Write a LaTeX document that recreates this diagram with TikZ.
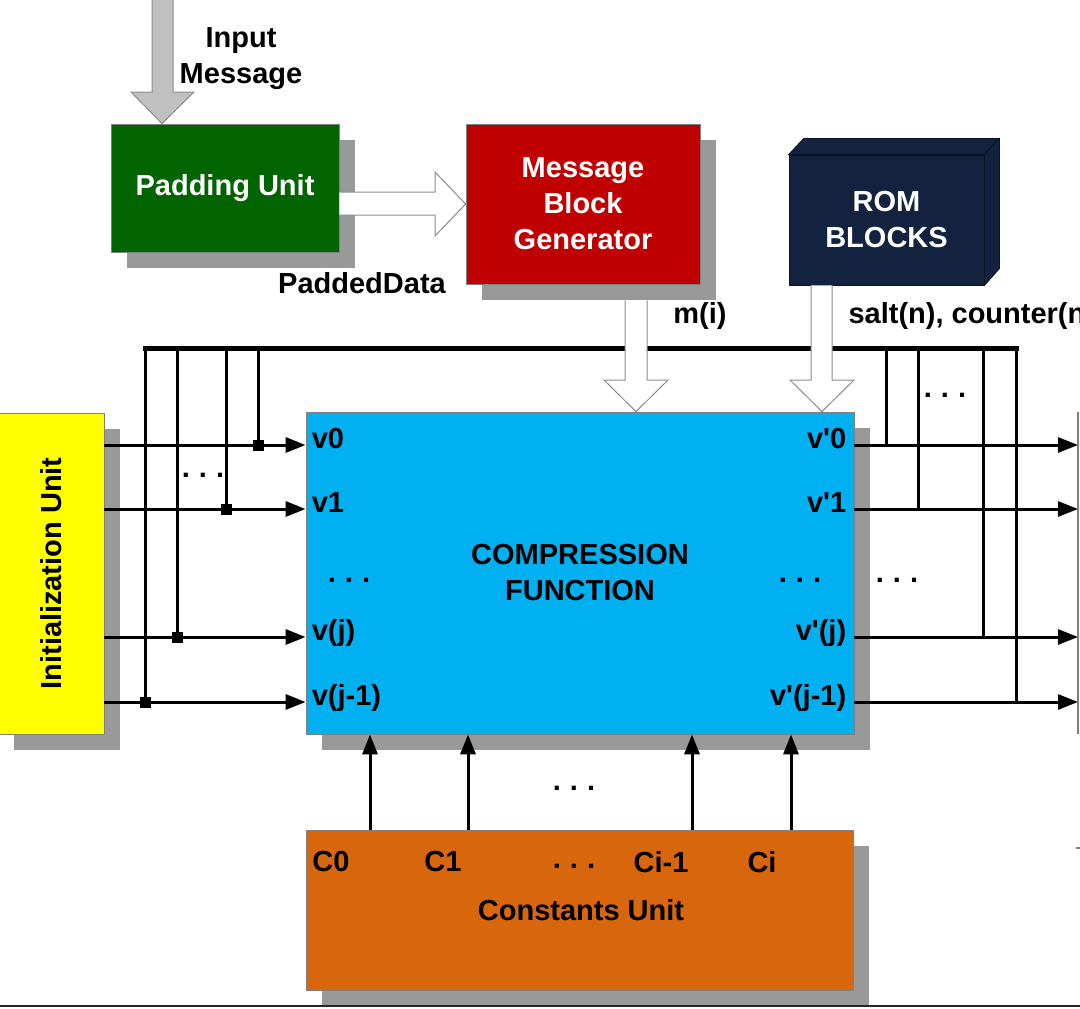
\documentclass[tikz,border=0pt]{standalone}
\usepackage{fontspec}
\setmainfont{Liberation Sans}
\usepackage{tikz}
\usetikzlibrary{arrows.meta}
\usetikzlibrary{shadows}

\definecolor{padgreen}{HTML}{006400}
\definecolor{mbgred}{HTML}{C00000}
\definecolor{romnavy}{HTML}{13223F}
\definecolor{compblue}{HTML}{00B0F0}
\definecolor{inityellow}{HTML}{FFFF00}
\definecolor{constorange}{HTML}{D8660C}
\definecolor{shadowgray}{HTML}{999999}
\definecolor{arrgray}{HTML}{C0C0C0}

\newcommand{\tridots}{.\hspace{9pt}.\hspace{9pt}.}

\tikzset{
  unit/.style={draw=black!50, line width=0.8pt, fill=#1, align=center,
    drop shadow={shadow xshift=16pt, shadow yshift=-16pt, fill=shadowgray, opacity=1}},
  sig/.style={line width=3pt, -{Triangle[length=20pt,width=15pt]}},
  wire/.style={line width=3pt},
  bus/.style={line width=5pt, line cap=rect},
  junc/.style={fill=black, inner sep=0pt, minimum size=11pt},
  blockarr/.style={draw=black!45, line width=1pt, fill=white},
  inarr/.style={draw=black!45, line width=1pt, fill=arrgray},
  vlbl/.style={text height=.72em, text depth=0pt, inner sep=0pt},
  dots/.style={font=\fontsize{29}{36}\selectfont\bfseries, inner sep=0pt, anchor=base}
}

\begin{document}
\begin{tikzpicture}[x=1pt, y=-1pt, every node/.style={font=\fontsize{29}{36}\selectfont\bfseries}]
  \useasboundingbox (0,0) rectangle (1080,1009);
  \clip (0,0) rectangle (1080,1009);
  % units
  \node[unit=padgreen, text=white, minimum width=228pt, minimum height=128pt] (pad) at (225,188) {Padding Unit};
  \node[unit=mbgred, text=white, minimum width=234pt, minimum height=160pt] (mbg) at (583,204) {Message\\Block\\Generator};
  \node[unit=inityellow, minimum width=106pt, minimum height=321pt] (init) at (51,573.5) {};
  \node[rotate=90] (initlbl) at (init) {Initialization Unit};
  \node[unit=compblue, minimum width=548pt, minimum height=322pt] (comp) at (580,573) {COMPRESSION\\FUNCTION};
  \node[unit=constorange, minimum width=547pt, minimum height=160pt] (const) at (579.5,910) {};
  % ROM blocks, drawn as a box
  \node[draw=romnavy!60!black, line width=0.8pt, fill=romnavy, text=white, align=center,
    minimum width=195pt, minimum height=130pt] (rom) at (886.5,220) {ROM\\BLOCKS};
  \draw[draw=romnavy!60!black, line width=0.8pt, fill=romnavy] (rom.north west) -- ++(15,-16) -- ++(195,0) -- (rom.north east) -- cycle;
  \draw[draw=romnavy!60!black, line width=0.8pt, fill=romnavy] (rom.north east) -- ++(15,-16) -- ++(0,130) -- (rom.south east) -- cycle;
  % rows
  \coordinate (r0) at (0,445);
  \coordinate (r1) at (0,509);
  \coordinate (r2) at (0,637);
  \coordinate (r3) at (0,702);
  \coordinate (nxt) at (1078,412);
  \coordinate (busl) at (145,348);
  \coordinate (busr) at (1016,348);
  % next stage edge
  \draw[gray, line width=1.5pt] (nxt) -- (1078,734);
  \draw[gray, line width=1.5pt] (1076,848) -- (1080,848);
  % feedback bus
  \draw[bus] (busl) -- (busr);
  \foreach \x/\r in {145/r3, 177/r2, 226/r1, 258/r0} {
    \draw[wire] (busl -| \x,0) -- (\x,0 |- \r);
  }
  \foreach \x/\r in {886/r0, 918/r1, 983/r2, 1016/r3} {
    \draw[wire] (busl -| \x,0) -- (\x,0 |- \r);
  }
  % chaining values in and out
  \foreach \r in {r0,r1,r2,r3} {
    \draw[sig] (init.east |- \r) -- (comp.west |- \r);
    \draw[sig] (comp.east |- \r) -- (nxt |- \r);
  }
  \foreach \x/\r in {145/r3, 177/r2, 226/r1, 258/r0} {
    \node[junc] at (\x,0 |- \r) {};
  }
  % constants
  \foreach \x in {370,468,692,791} {
    \draw[sig] (const.north -| \x,0) -- (comp.south -| \x,0);
  }
  % block arrows
  \draw[inarr] (152,-5) -- (152,92) -- (131,92) -- ([xshift=-63pt]pad.north) -- (194,92) -- (173,92) -- (173,-5);
  \draw[blockarr] ([yshift=-4pt]pad.east) -- (435,192) -- (435,172) -- (mbg.west) -- (435,236) -- (435,215) -- ([yshift=-27pt]pad.east);
  \draw[blockarr] ([xshift=42pt,yshift=-16pt]mbg.south) -- (625,380) -- (604,380) -- ([xshift=56pt]comp.north) -- (668,380) -- (647,380) -- ([xshift=64pt,yshift=-16pt]mbg.south);
  \draw[blockarr] ([xshift=-75.5pt]rom.south) -- (811,380) -- (790,380) -- (comp.north -| 822,0) -- (854,380) -- (832,380) -- ([xshift=-54.5pt]rom.south);
  % labels
  \node[align=center] (inmsg) at (241,59) {Input\\Message};
  \node (padlbl) at (362,283) {PaddedData};
  \node (mlbl) at (700,316) {m(i)};
  \node[anchor=west] (saltlbl) at (845,316) {salt(n), counter(n)};
  \node[vlbl, anchor=west, xshift=6pt] (v0) at (comp.west |- r0) {v0};
  \node[vlbl, anchor=west, xshift=6pt] (v1) at (comp.west |- r1) {v1};
  \node[vlbl, anchor=west, xshift=6pt] (v2) at (comp.west |- r2) {v(j)};
  \node[vlbl, anchor=west, xshift=6pt] (v3) at (comp.west |- r3) {v(j-1)};
  \node[vlbl, anchor=east, xshift=-8pt] (w0) at (comp.east |- r0) {v\textquotesingle0};
  \node[vlbl, anchor=east, xshift=-8pt] (w1) at (comp.east |- r1) {v\textquotesingle1};
  \node[vlbl, anchor=east, xshift=-8pt] (w2) at (comp.east |- r2) {v\textquotesingle(j)};
  \node[vlbl, anchor=east, xshift=-8pt] (w3) at (comp.east |- r3) {v\textquotesingle(j-1)};
  \node (c0) at (331,862) {C0};
  \node (c1) at (443,862) {C1};
  \node (ci1) at (661,862) {Ci-1};
  \node (ci) at (762,862) {Ci};
  \node (constlbl) at (581,910) {Constants Unit};
  % dots
  \node[dots] at (203,477) {\tridots};
  \node[dots] at (349,582) {\tridots};
  \node[dots] at (800,582) {\tridots};
  \node[dots] at (897,582) {\tridots};
  \node[dots] at (945,397) {\tridots};
  \node[dots] at (574,790) {\tridots};
  \node[dots] at (574,868) {\tridots};
  % bottom rule
  \draw[black!85, line width=2pt] (0,1006) -- (1080,1006);
\end{tikzpicture}
\end{document}
